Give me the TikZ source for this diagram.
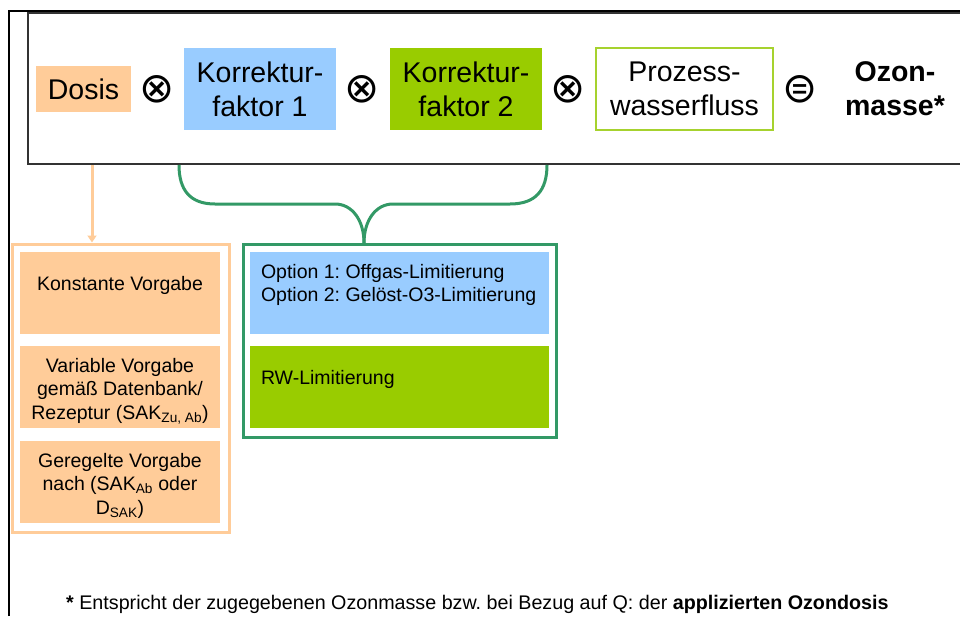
\documentclass[tikz,border=0pt]{standalone}
\usepackage{fontspec}
\setmainfont{Liberation Sans}
\newfontfamily\symbfont{DejaVu Sans}
\usetikzlibrary{arrows.meta}
\frenchspacing

\definecolor{dosisorange}{HTML}{FFCC99}
\definecolor{kfblue}{HTML}{99CCFF}
\definecolor{kfgreen}{HTML}{99CC00}
\definecolor{flussgreen}{HTML}{A6D22E}
\definecolor{bracegreen}{HTML}{339966}
\definecolor{framegray}{HTML}{333333}

% text pinned to the top of a box of fixed size
\newcommand{\toptext}[4]{\parbox[c][#2][t]{#1}{\vspace*{#3}#4}}

\tikzset{
  eqbox/.style={inner sep=0pt, align=center, font=\fontsize{28.5}{34}\selectfont},
  opsym/.style={inner sep=0pt, font=\symbfont\fontsize{42}{42}\selectfont},
  vbox/.style={fill=dosisorange, inner sep=0pt, font=\fontsize{19.5}{23.5}\selectfont},
  lbox/.style={inner sep=0pt, font=\fontsize{19.5}{23.5}\selectfont},
}

\begin{document}
\begin{tikzpicture}[x=1pt,y=-1pt]
    \useasboundingbox (0,0) rectangle (960,616);

    %Frames
    \draw[line width=2] (9,616) -- (9,11) -- (961,11); %Outer frame
    \draw[framegray, line width=2] (961,13) -- (28,13) -- (28,164) -- (961,164); %Equation frame

    %Equation
    \node[eqbox, fill=dosisorange, minimum width=95, minimum height=46] (dosis) at (83.5,89) {Dosis};
    \node[opsym] (mal1) at (157,89) {⊗};
    \node[eqbox, fill=kfblue, minimum width=152, minimum height=82] (kf1) at (260,89) {Korrektur-\\faktor 1};
    \node[opsym] (mal2) at (362,89) {⊗};
    \node[eqbox, fill=kfgreen, minimum width=152, minimum height=82] (kf2) at (466,89) {Korrektur-\\faktor 2};
    \node[opsym] (mal3) at (568,89) {⊗};
    \node[eqbox, draw=flussgreen, line width=2.5, minimum width=177, minimum height=82] (fluss) at (684.5,89) {Prozess-\\wasserfluss};
    \node[opsym] (gleich) at (800,89) {⊜};
    \node[eqbox, font=\fontsize{28.5}{34}\selectfont\bfseries] (masse) at (895,89) {Ozon-\\masse*};

    %Dosis options
    \node[draw=dosisorange, line width=3, minimum width=217, minimum height=288] (vorgabe) at (120.5,388) {};
    \node[vbox] (konst) at (120,293) {\toptext{200pt}{82pt}{24pt}{\centering Konstante Vorgabe}};
    \node[vbox] (variabel) at (120,387) {\toptext{200pt}{82pt}{12pt}{\centering Variable Vorgabe\\gemäß Datenbank/\\Rezeptur (SAK\textsubscript{Zu, Ab})}};
    \node[vbox] (geregelt) at (120,482) {\toptext{200pt}{82pt}{12pt}{\centering Geregelte Vorgabe\\nach (SAK\textsubscript{Ab} oder\\D\textsubscript{SAK})}};
    \coordinate (dosisout) at (92,165);
    \draw[dosisorange, line width=3, -{Triangle[length=7,width=9]}] (dosisout) -- (vorgabe.north -| dosisout);

    %Limitations
    \node[draw=bracegreen, line width=3, minimum width=313, minimum height=193] (limit) at (399.5,340.5) {};
    \node[lbox, fill=kfblue] (option) at (399.5,293) {\toptext{299pt}{82pt}{12pt}{\raggedright\hspace*{11pt}Option 1: Offgas-Limitierung\\\hspace*{11pt}Option 2: Gelöst-O3-Limitierung}};
    \node[lbox, fill=kfgreen] (rw) at (399.5,387) {\toptext{299pt}{82pt}{24pt}{\raggedright\hspace*{11pt}RW-Limitierung}};

    %Brace
    \coordinate (braceL) at (179,165);
    \coordinate (braceR) at (547,165);
    \coordinate (bracetip) at (364,243);
    \draw[bracegreen, line width=3] (braceL) .. controls (179,190) and (190,204) .. (215,204) -- (335,204)
        .. controls (352,204) and (364,220) .. (bracetip);
    \draw[bracegreen, line width=3] (bracetip) .. controls (364,220) and (376,204) .. (393,204) -- (510,204)
        .. controls (536,204) and (547,190) .. (braceR);

    %Footnote
    \node[anchor=base west, inner sep=0pt, font=\fontsize{19.7}{22}\selectfont] (fussnote) at (66,609)
        {\textbf{*} Entspricht der zugegebenen Ozonmasse bzw. bei Bezug auf Q: der \textbf{applizierten Ozondosis}};

\end{tikzpicture}
\end{document}
